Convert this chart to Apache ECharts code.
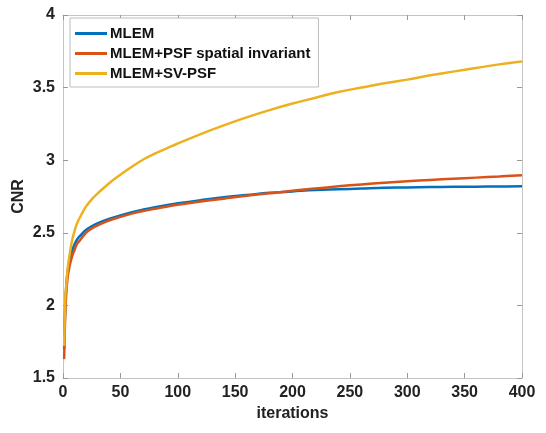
<!DOCTYPE html>
<html>
<head>
<meta charset="utf-8">
<script src="https://cdn.jsdelivr.net/npm/echarts@6/dist/echarts.min.js"></script>
<style>html,body{margin:0;padding:0;background:#fff}#c{width:546px;height:433px}</style>
</head>
<body>
<div id="c"></div>
<script>
var iterations = [1,2,3,4,5,6,8,10,12,15,20,25,30,40,50,60,70,80,90,100,120,140,160,180,200,220,240,260,280,300,320,340,360,380,400];
var mlem = [1.70,2.00,2.15,2.23,2.28,2.32,2.38,2.42,2.45,2.48,2.52,2.545,2.565,2.595,2.62,2.642,2.66,2.676,2.69,2.703,2.725,2.745,2.76,2.775,2.785,2.795,2.80,2.805,2.81,2.812,2.815,2.817,2.818,2.819,2.82];
var mlemPsfSi = [1.63,1.95,2.10,2.19,2.24,2.28,2.34,2.38,2.42,2.45,2.50,2.53,2.55,2.585,2.61,2.632,2.65,2.665,2.68,2.693,2.715,2.735,2.755,2.772,2.79,2.805,2.82,2.833,2.845,2.855,2.864,2.872,2.88,2.888,2.897];
var mlemSvPsf = [1.72,2.05,2.15,2.25,2.31,2.36,2.45,2.51,2.56,2.61,2.68,2.73,2.77,2.84,2.90,2.955,3.005,3.045,3.08,3.115,3.18,3.24,3.295,3.345,3.39,3.43,3.47,3.50,3.53,3.555,3.585,3.61,3.635,3.66,3.68];
var seriesNames = ['MLEM','MLEM+PSF spatial invariant','MLEM+SV-PSF'];
var xTicks = [0,50,100,150,200,250,300,350,400];
var yTicks = [1.5,2,2.5,3,3.5,4];

function pairs(ys){ return iterations.map(function(x,i){ return [x, ys[i]]; }); }
var colors = ['#0072BD','#D95319','#EDB120'];
var font = 'Liberation Sans, Arial, Helvetica, sans-serif';
var boxColor = '#c4c4c4';

var chart = echarts.init(document.getElementById('c'), null, {renderer:'canvas'});
var lineW = 2.5;
function mk(name, ys, c){
  return {name:name, type:'line', data:pairs(ys), showSymbol:false, symbol:'none', smooth:0.4,
    lineStyle:{color:c, width:lineW}, itemStyle:{color:c}, xAxisIndex:0, yAxisIndex:0, z:3};
}
chart.setOption({
  animation:false,
  backgroundColor:'#fff',
  grid:{left:63, right:24, top:15, bottom:55, show:false, containLabel:false, outerBoundsMode:'none'},
  legend:{
    orient:'vertical', left:70, top:18,
    data:seriesNames.map(function(n){return {name:n, icon:'rect'};}),
    itemWidth:32, itemHeight:3, itemGap:5,
    backgroundColor:'#fff', borderColor:'#bdbdbd', borderWidth:1,
    padding:[8,8,6,5],
    textStyle:{fontFamily:font, fontWeight:'bold', fontSize:15, color:'#111', padding:[0,0,0,-2]}
  },
  xAxis:[{
    type:'value', min:0, max:400, interval:50, position:'bottom',
    name:'iterations', nameLocation:'middle', nameGap:26,
    nameTextStyle:{fontFamily:font, fontWeight:'bold', fontSize:16, color:'#222'},
    axisLine:{show:true, onZero:false, lineStyle:{color:boxColor, width:1}},
    axisTick:{show:true, inside:true, length:5, lineStyle:{color:'#999'}},
    axisLabel:{fontFamily:font, fontWeight:'bold', fontSize:16, color:'#222', margin:7,
      formatter:function(v){return xTicks.indexOf(v)>=0? String(v):'';}},
    splitLine:{show:false}
  },{
    type:'value', min:0, max:400, interval:50, position:'top',
    axisLine:{show:true, onZero:false, lineStyle:{color:boxColor, width:1}},
    axisTick:{show:true, inside:true, length:5, lineStyle:{color:'#999'}},
    axisLabel:{show:false}, splitLine:{show:false}
  }],
  yAxis:[{
    type:'value', min:1.5, max:4, interval:0.5, position:'left',
    name:'CNR', nameLocation:'middle', nameGap:36, nameRotate:90, nameMoveOverlap:false,
    nameTextStyle:{fontFamily:font, fontWeight:'bold', fontSize:16, color:'#222'},
    axisLine:{show:true, onZero:false, lineStyle:{color:boxColor, width:1}},
    axisTick:{show:true, inside:true, length:5, lineStyle:{color:'#999'}},
    axisLabel:{fontFamily:font, fontWeight:'bold', fontSize:16, color:'#222', margin:8,
      formatter:function(v){return yTicks.indexOf(v)>=0? String(v):'';}},
    splitLine:{show:false}
  },{
    type:'value', min:1.5, max:4, interval:0.5, position:'right',
    axisLine:{show:true, onZero:false, lineStyle:{color:boxColor, width:1}},
    axisTick:{show:true, inside:true, length:5, lineStyle:{color:'#999'}},
    axisLabel:{show:false}, splitLine:{show:false}
  }],
  series:[
    mk(seriesNames[0], mlem, colors[0]),
    mk(seriesNames[1], mlemPsfSi, colors[1]),
    mk(seriesNames[2], mlemSvPsf, colors[2])
  ]
});
</script>
</body>
</html>
